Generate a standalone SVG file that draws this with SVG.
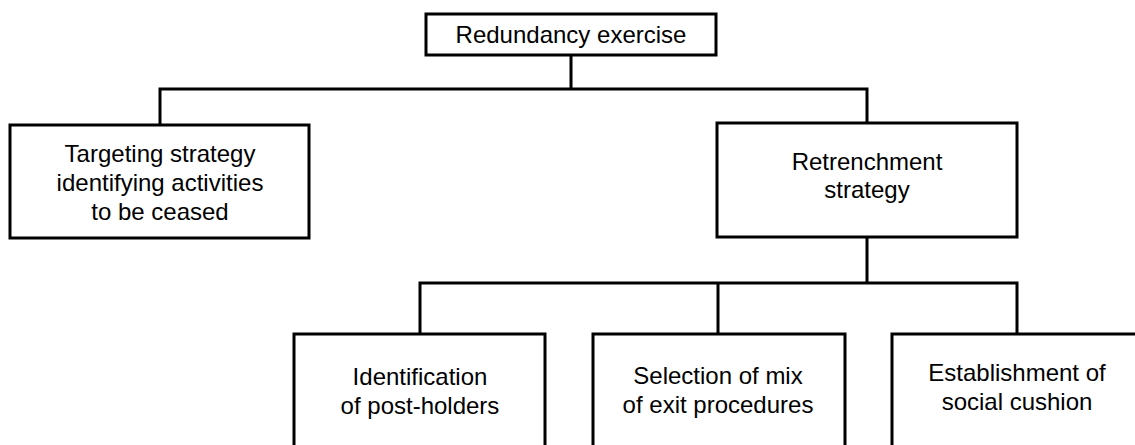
<svg xmlns="http://www.w3.org/2000/svg" width="1135" height="445" viewBox="0 0 1135 445">
  <style>
    .box { fill: #fff; stroke: #000; stroke-width: 3; }
    .link { fill: none; stroke: #000; stroke-width: 3; }
    text { font-family: "Liberation Sans", Arial, sans-serif; font-size: 24px; fill: #000; text-anchor: middle; }
  </style>
  <rect width="1135" height="445" fill="#fff"/>

  <!-- tree connectors -->
  <g id="connectors">
    <path class="link" d="M571 55 V89 M160 126 V89 H867 V123"/>
    <path class="link" d="M867 237 V283 M420 334 V283 H1017 V334 M718 283 V334"/>
  </g>

  <g id="root">
    <rect class="box" x="426" y="14" width="290" height="41"/>
    <text x="571" y="43">Redundancy exercise</text>
  </g>

  <g id="targeting">
    <rect class="box" x="10" y="125" width="299" height="113"/>
    <text x="160" y="162">Targeting strategy</text>
    <text x="160" y="191">identifying activities</text>
    <text x="160" y="220">to be ceased</text>
  </g>

  <g id="retrenchment">
    <rect class="box" x="717" y="123" width="300" height="114"/>
    <text x="867" y="170">Retrenchment</text>
    <text x="867" y="198">strategy</text>
  </g>

  <g id="identification">
    <rect class="box" x="294" y="334" width="251" height="130"/>
    <text x="420" y="385">Identification</text>
    <text x="420" y="414">of post-holders</text>
  </g>

  <g id="selection">
    <rect class="box" x="593" y="334" width="252" height="130"/>
    <text x="718" y="384">Selection of mix</text>
    <text x="718" y="413">of exit procedures</text>
  </g>

  <g id="establishment">
    <rect class="box" x="892" y="334" width="260" height="130"/>
    <text x="1017" y="381">Establishment of</text>
    <text x="1017" y="410">social cushion</text>
  </g>
</svg>
